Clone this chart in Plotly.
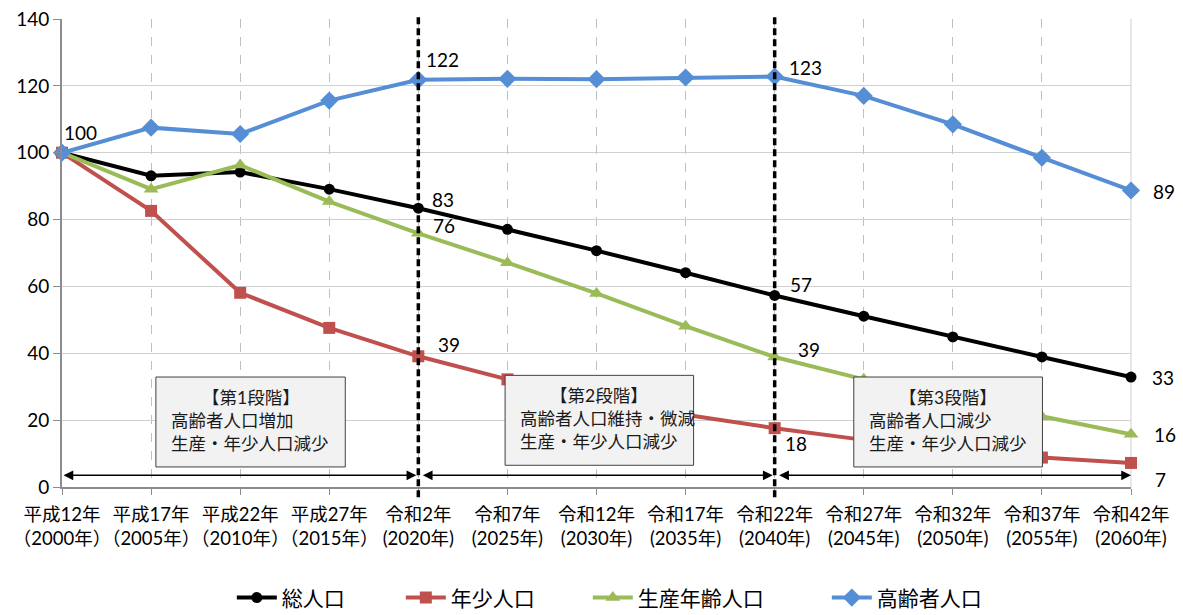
import plotly.graph_objects as go

# 年次（5年刻み）
years = [2000, 2005, 2010, 2015, 2020, 2025, 2030, 2035, 2040, 2045, 2050, 2055, 2060]
tick_era = ["平成12年", "平成17年", "平成22年", "平成27年", "令和2年", "令和7年", "令和12年",
            "令和17年", "令和22年", "令和27年", "令和32年", "令和37年", "令和42年"]
tick_ad = ["（2000年）", "（2005年）", "（2010年）", "（2015年）", "(2020年)", "(2025年)", "(2030年)",
           "(2035年)", "(2040年)", "(2045年)", "(2050年)", "(2055年)", "(2060年)"]

# 2000年を100とした指数
total = [100, 93.1, 94.2, 89.1, 83.4, 77.1, 70.7, 64.1, 57.3, 51.1, 44.9, 38.9, 32.9]
youth = [100, 82.6, 58.1, 47.6, 39.1, 32.2, 26.6, 21.6, 17.6, 14.1, 11.4, 8.8, 7.2]
working = [100, 89.1, 96.3, 85.4, 75.9, 67.1, 57.9, 48.1, 38.9, 32.2, 26.5, 21.0, 15.8]
elderly = [100, 107.5, 105.6, 115.6, 121.8, 122.1, 122.0, 122.5, 122.8, 117.0, 108.5, 98.5, 88.7]

series_names = ["総人口", "年少人口", "生産年齢人口", "高齢者人口"]
series_values = [total, youth, working, elderly]
series_colors = ["#000000", "#c0504d", "#9bbb59", "#558ed5"]
series_symbols = ["circle", "square", "triangle-up", "diamond"]
series_sizes = [11, 12, 13, 14]
legend_widths = [114, 132, 184, None]

# 段階の区切り年と説明
stage_bounds = [2000, 2020, 2040, 2060]
stage_titles = ["【第1段階】", "【第2段階】", "【第3段階】"]
stage_lines = [["高齢者人口増加", "生産・年少人口減少"],
               ["高齢者人口維持・微減", "生産・年少人口減少"],
               ["高齢者人口減少", "生産・年少人口減少"]]

FONT = "Lato, 'Noto Sans CJK JP', sans-serif"

fig = go.Figure()
for name, vals, col, sym, sz, lw in zip(series_names, series_values, series_colors,
                                        series_symbols, series_sizes, legend_widths):
    fig.add_trace(go.Scatter(
        x=years, y=vals, name=name, mode="lines+markers",
        line=dict(color=col, width=4),
        marker=dict(symbol=sym, size=sz, color=col),
        cliponaxis=False,
        legendwidth=lw,
    ))

# 数値ラベル：(系列番号, 年の位置, xshift, yshift)
label_spots = [
    (3, 0, 0, 20),
    (3, 4, 6, 20), (0, 4, 12, 9), (2, 4, 13, 8), (1, 4, 18, 12),
    (3, 8, 12, 9), (0, 8, 13, 11), (2, 8, 21, 7), (1, 8, 8, -15),
    (3, 12, 20, -1), (0, 12, 19, 0), (2, 12, 21, 0), (1, 12, 22, -17),
]
for si, xi, dx, dy in label_spots:
    v = series_values[si][xi]
    fig.add_annotation(x=years[xi], y=v, text=f"{round(v)}", showarrow=False,
                       xanchor="left", yanchor="middle", xshift=dx, yshift=dy,
                       font=dict(family=FONT, size=19, color="#000000"))

shapes = []
# 段階の境界（太い破線）
for b in stage_bounds[1:3]:
    shapes.append(dict(type="line", xref="x", yref="paper", x0=b, x1=b,
                       y0=-0.022, y1=1.011, layer="above",
                       line=dict(color="#000000", width=3.5, dash="7px,4px")))
# 右端の枠線
shapes.append(dict(type="line", xref="paper", yref="paper", x0=1, x1=1, y0=0, y1=1,
                   layer="below", line=dict(color="#d0d0d0", width=1)))

# 説明ボックス（年, 値で配置）
boxes = [(2005.27, 2015.9, 6.0, 32.9), (2024.87, 2035.45, 6.5, 33.4), (2044.44, 2055.03, 6.0, 32.9)]
for (x0, x1, y0, y1), title, lines in zip(boxes, stage_titles, stage_lines):
    shapes.append(dict(type="rect", xref="x", yref="y", x0=x0, x1=x1, y0=y0, y1=y1,
                       layer="above", fillcolor="#f2f2f2",
                       line=dict(color="#404040", width=1)))
    fig.add_annotation(x=(x0 + x1) / 2, y=y1, text=title, showarrow=False,
                       xanchor="center", yanchor="middle", yshift=-20,
                       font=dict(family=FONT, size=17.5, color="#1a1a1a"))
    for k, ln in enumerate(lines):
        fig.add_annotation(x=x0, y=y1, text=ln, showarrow=False,
                           xanchor="left", yanchor="middle", xshift=13, yshift=-43 - 23.5 * k,
                           font=dict(family=FONT, size=17.5, color="#1a1a1a"))

# 段階の期間を示す両矢印
for i in range(3):
    fig.add_annotation(x=stage_bounds[i + 1], y=3.5, ax=stage_bounds[i], ay=3.5,
                       xref="x", yref="y", axref="x", ayref="y", text="",
                       showarrow=True, arrowside="end+start", arrowhead=2,
                       arrowsize=1.3, arrowwidth=1.5, arrowcolor="#000000",
                       standoff=2 if i < 2 else 0, startstandoff=3 if i > 0 else 0)

fig.update_layout(
    width=1183, height=615,
    margin=dict(l=62, r=52, t=19, b=128, autoexpand=False),
    paper_bgcolor="#ffffff", plot_bgcolor="#ffffff",
    font=dict(family=FONT, size=19, color="#000000"),
    shapes=shapes,
    showlegend=True,
    legend=dict(orientation="h", x=0.512, xanchor="center", y=-0.237, yanchor="middle",
                font=dict(family=FONT, size=21, color="#000000"),
                itemwidth=40, tracegroupgap=0),
    xaxis=dict(
        range=[2000, 2060], tickmode="array", tickvals=years,
        ticktext=[f"{a}<br>{b}" for a, b in zip(tick_era, tick_ad)],
        tickangle=0, automargin=False, ticklabelstandoff=4,
        showgrid=True, gridcolor="#bfbfbf", gridwidth=1, griddash="dash",
        showline=True, linecolor="#8c8c8c", linewidth=2,
        ticks="outside", ticklen=6, tickcolor="#8c8c8c",
        tickfont=dict(family=FONT, size=18.5, color="#000000"),
        zeroline=False,
    ),
    yaxis=dict(
        range=[0, 140], tickmode="array", tickvals=list(range(0, 141, 20)),
        automargin=False,
        showgrid=True, gridcolor="#d0d0d0", gridwidth=1,
        showline=True, linecolor="#8c8c8c", linewidth=2,
        ticks="outside", ticklen=7, tickcolor="#8c8c8c",
        tickfont=dict(family=FONT, size=19, color="#000000"),
        zeroline=False,
    ),
)

fig.write_html("out.html")
